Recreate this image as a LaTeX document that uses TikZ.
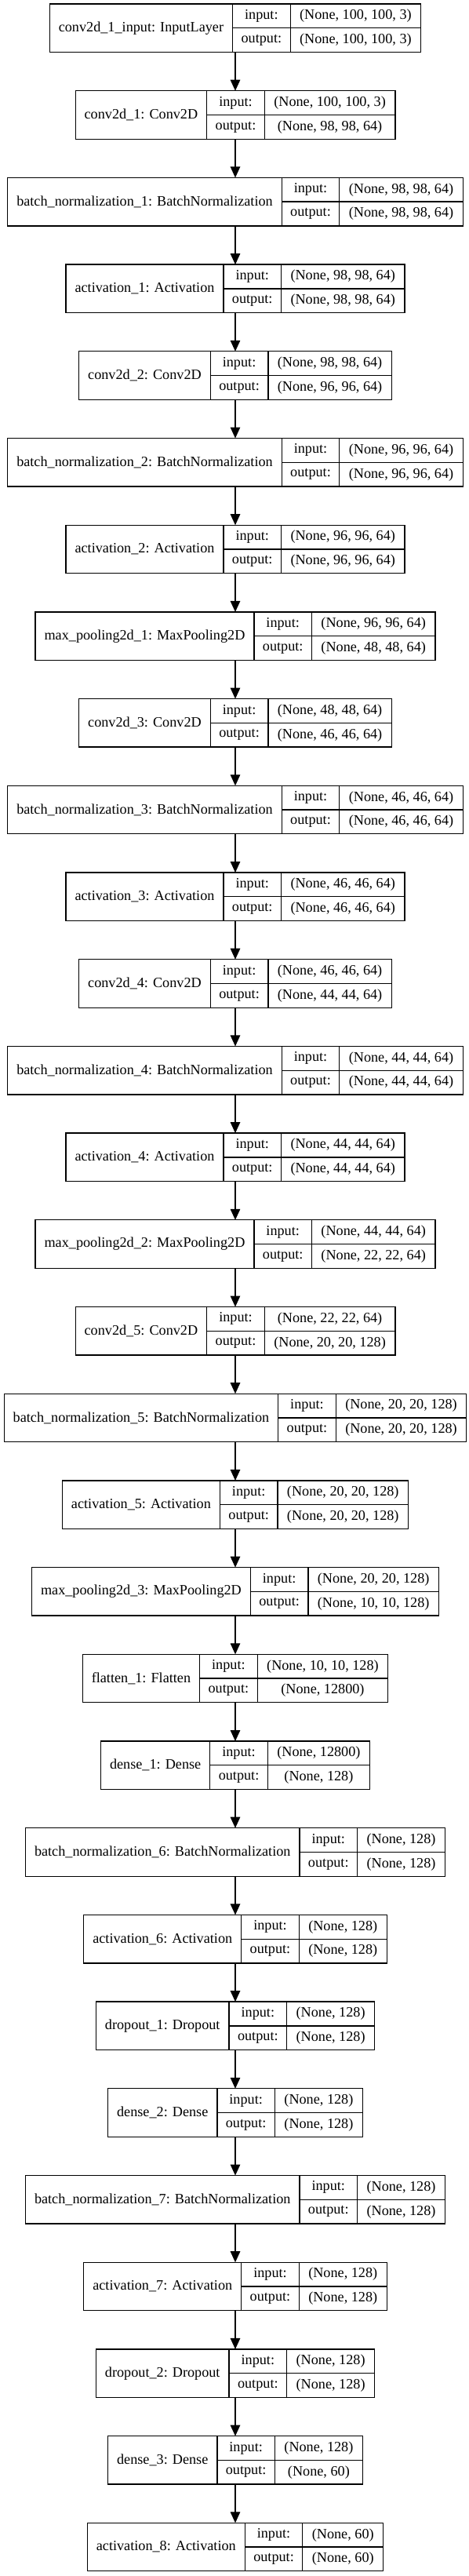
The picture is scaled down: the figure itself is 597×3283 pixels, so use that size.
\documentclass[tikz,border=0pt]{standalone}
\usepackage{fontspec}
\setmainfont{Liberation Serif}
\usetikzlibrary{arrows.meta}
\newlength\wLab \newlength\wIO \newlength\wShp \newlength\wTmp
\newcommand\lfont{\fontsize{18.2pt}{20pt}\selectfont}
\newcommand\measureText[2]{\settowidth#1{\pgfinterruptpicture\normalfont\lfont #2\endpgfinterruptpicture}}
\tikzset{
 cell/.style={draw=black, line width=1.3pt, inner sep=0pt, outer sep=0pt, font=\lfont, anchor=north west},
 frame/.style={inner sep=0pt, outer sep=0pt, anchor=north, minimum height=61.5pt},
 arr/.style={draw=black, line width=1.3pt, -{Triangle[length=14pt,width=12.5pt]}},
}
\newcommand\kerasLayer[5]{%
 \measureText\wLab{#2}\addtolength\wLab{23pt}%
 \measureText\wIO{output:}\addtolength\wIO{22pt}%
 \measureText\wShp{#3}\measureText\wTmp{#4}%
 \ifdim\wTmp>\wShp\wShp=\wTmp\fi\addtolength\wShp{24pt}%
 \pgfmathsetmacro\ytop{-(5+110.7*#5)}%
 \pgfmathsetmacro\wTot{\wLab+\wIO+\wShp}%
 \pgfmathsetmacro\xl{300-\wTot/2}%
 \node[frame, minimum width=\wTot pt] (#1) at (300pt,\ytop pt) {};
 \node[cell, minimum width=\wLab, minimum height=61.5pt] (#1-l) at (\xl pt,\ytop pt) {#2};
 \node[cell, minimum width=\wIO, minimum height=30.75pt] (#1-ik) at (#1-l.north east) {input:};
 \node[cell, minimum width=\wIO, minimum height=30.75pt] (#1-ok) at (#1-ik.south west) {output:};
 \node[cell, minimum width=\wShp, minimum height=30.75pt] (#1-iv) at (#1-ik.north east) {#3};
 \node[cell, minimum width=\wShp, minimum height=30.75pt] (#1-ov) at (#1-ok.north east) {#4};
}
\begin{document}
\begin{tikzpicture}
\useasboundingbox[fill=white] (0pt,0pt) rectangle (597pt,-3283pt);
\kerasLayer{n0}{conv2d\_1\_input: InputLayer}{(None, 100, 100, 3)}{(None, 100, 100, 3)}{0}
\kerasLayer{n1}{conv2d\_1: Conv2D}{(None, 100, 100, 3)}{(None, 98, 98, 64)}{1}
\kerasLayer{n2}{batch\_normalization\_1: BatchNormalization}{(None, 98, 98, 64)}{(None, 98, 98, 64)}{2}
\kerasLayer{n3}{activation\_1: Activation}{(None, 98, 98, 64)}{(None, 98, 98, 64)}{3}
\kerasLayer{n4}{conv2d\_2: Conv2D}{(None, 98, 98, 64)}{(None, 96, 96, 64)}{4}
\kerasLayer{n5}{batch\_normalization\_2: BatchNormalization}{(None, 96, 96, 64)}{(None, 96, 96, 64)}{5}
\kerasLayer{n6}{activation\_2: Activation}{(None, 96, 96, 64)}{(None, 96, 96, 64)}{6}
\kerasLayer{n7}{max\_pooling2d\_1: MaxPooling2D}{(None, 96, 96, 64)}{(None, 48, 48, 64)}{7}
\kerasLayer{n8}{conv2d\_3: Conv2D}{(None, 48, 48, 64)}{(None, 46, 46, 64)}{8}
\kerasLayer{n9}{batch\_normalization\_3: BatchNormalization}{(None, 46, 46, 64)}{(None, 46, 46, 64)}{9}
\kerasLayer{n10}{activation\_3: Activation}{(None, 46, 46, 64)}{(None, 46, 46, 64)}{10}
\kerasLayer{n11}{conv2d\_4: Conv2D}{(None, 46, 46, 64)}{(None, 44, 44, 64)}{11}
\kerasLayer{n12}{batch\_normalization\_4: BatchNormalization}{(None, 44, 44, 64)}{(None, 44, 44, 64)}{12}
\kerasLayer{n13}{activation\_4: Activation}{(None, 44, 44, 64)}{(None, 44, 44, 64)}{13}
\kerasLayer{n14}{max\_pooling2d\_2: MaxPooling2D}{(None, 44, 44, 64)}{(None, 22, 22, 64)}{14}
\kerasLayer{n15}{conv2d\_5: Conv2D}{(None, 22, 22, 64)}{(None, 20, 20, 128)}{15}
\kerasLayer{n16}{batch\_normalization\_5: BatchNormalization}{(None, 20, 20, 128)}{(None, 20, 20, 128)}{16}
\kerasLayer{n17}{activation\_5: Activation}{(None, 20, 20, 128)}{(None, 20, 20, 128)}{17}
\kerasLayer{n18}{max\_pooling2d\_3: MaxPooling2D}{(None, 20, 20, 128)}{(None, 10, 10, 128)}{18}
\kerasLayer{n19}{flatten\_1: Flatten}{(None, 10, 10, 128)}{(None, 12800)}{19}
\kerasLayer{n20}{dense\_1: Dense}{(None, 12800)}{(None, 128)}{20}
\kerasLayer{n21}{batch\_normalization\_6: BatchNormalization}{(None, 128)}{(None, 128)}{21}
\kerasLayer{n22}{activation\_6: Activation}{(None, 128)}{(None, 128)}{22}
\kerasLayer{n23}{dropout\_1: Dropout}{(None, 128)}{(None, 128)}{23}
\kerasLayer{n24}{dense\_2: Dense}{(None, 128)}{(None, 128)}{24}
\kerasLayer{n25}{batch\_normalization\_7: BatchNormalization}{(None, 128)}{(None, 128)}{25}
\kerasLayer{n26}{activation\_7: Activation}{(None, 128)}{(None, 128)}{26}
\kerasLayer{n27}{dropout\_2: Dropout}{(None, 128)}{(None, 128)}{27}
\kerasLayer{n28}{dense\_3: Dense}{(None, 128)}{(None, 60)}{28}
\kerasLayer{n29}{activation\_8: Activation}{(None, 60)}{(None, 60)}{29}
\foreach \a [evaluate=\a as \b using int(\a+1)] in {0,...,28}{
 \draw[arr] (n\a.south) -- (n\b.north);
}
\end{tikzpicture}
\end{document}
